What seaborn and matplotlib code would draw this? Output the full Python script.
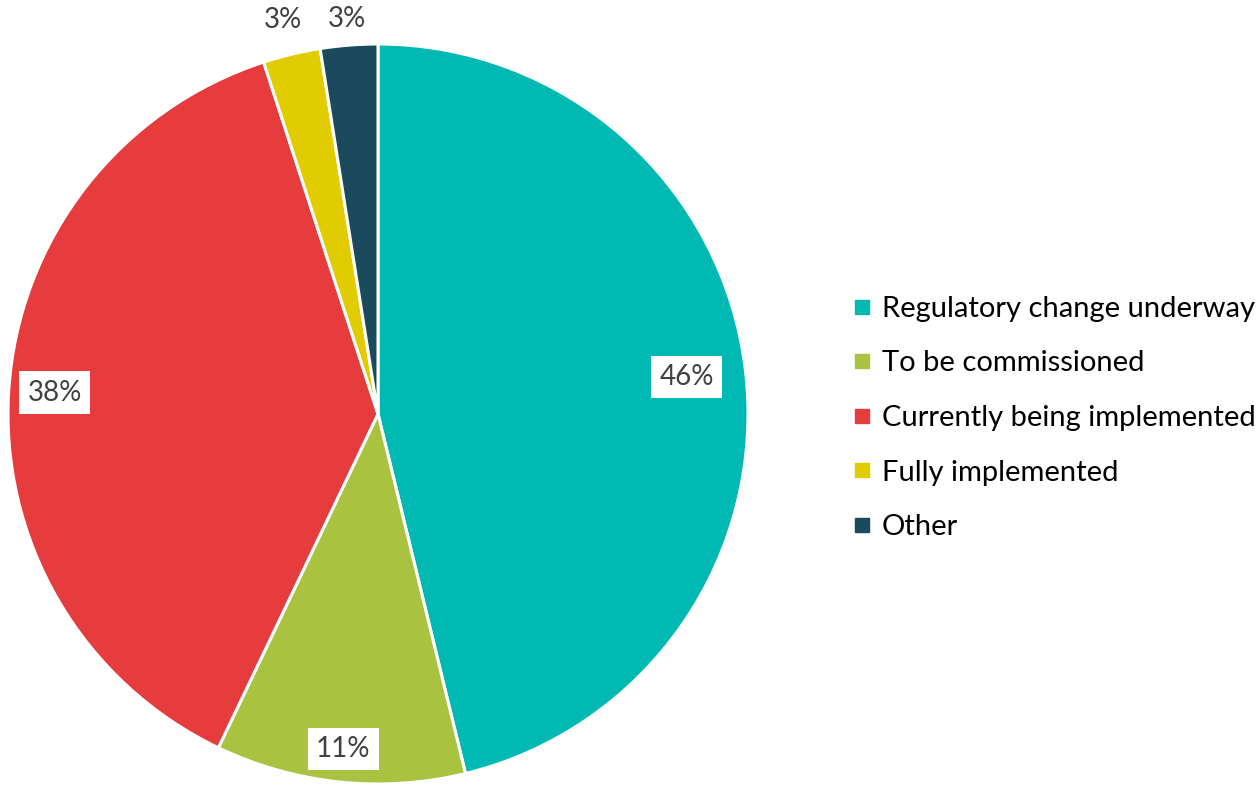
import numpy as np
import matplotlib
matplotlib.use("Agg")
import matplotlib.pyplot as plt
import seaborn as sns
from matplotlib.lines import Line2D

sns.set_theme(style="white")
plt.rcParams['font.family'] = ['Lato', 'DejaVu Sans']

# Data (percent shares)
categories = ["Regulatory change underway", "To be commissioned",
              "Currently being implemented", "Fully implemented", "Other"]
shares = [46.2, 10.9, 37.9, 2.5, 2.5]
colors = ["#00B9B3", "#A9C23F", "#E63C3E", "#E0CC00", "#1A4A5C"]

# label placement (radius fraction) and whether a white box is drawn
label_dist = [0.84, 0.91, 0.875, 1.095, 1.07]
label_box = [True, True, True, False, False]

fig = plt.figure(figsize=(12.58, 7.86), dpi=100)
W, H = 1258, 786
cx, cy, r = 378, 414, 370
ax = fig.add_axes([(cx - r) / W, (H - cy - r) / H, 2 * r / W, 2 * r / H])

wedges, _ = ax.pie(shares, colors=colors, startangle=90, counterclock=False,
                   radius=1, wedgeprops=dict(edgecolor="white", linewidth=2.2))
ax.set_xlim(-1, 1)
ax.set_ylim(-1, 1)
ax.set_aspect("equal")
ax.axis("off")

total = sum(shares)
for w, v, d, box in zip(wedges, shares, label_dist, label_box):
    ang = np.deg2rad((w.theta1 + w.theta2) / 2)
    x, y = d * np.cos(ang), d * np.sin(ang)
    txt = f"{int(v / total * 100 + 0.5)}%"
    bbox = dict(boxstyle="square,pad=0.3", fc="white", ec="none") if box else None
    ax.text(x, y, txt, ha="center", va="center", fontsize=20, color="#404040",
            bbox=bbox, clip_on=False)

handles = [Line2D([0], [0], marker="s", linestyle="none", markersize=9.5,
                  markerfacecolor=c, markeredgecolor=c) for c in colors]
fig.legend(handles, categories, loc="center left", bbox_to_anchor=(850 / W, 1 - 418 / H),
           frameon=False, fontsize=21, labelspacing=0.98, handletextpad=0.3,
           handlelength=0.8, borderaxespad=0, borderpad=0, labelcolor="black")

fig.savefig("out.png", dpi=100)
